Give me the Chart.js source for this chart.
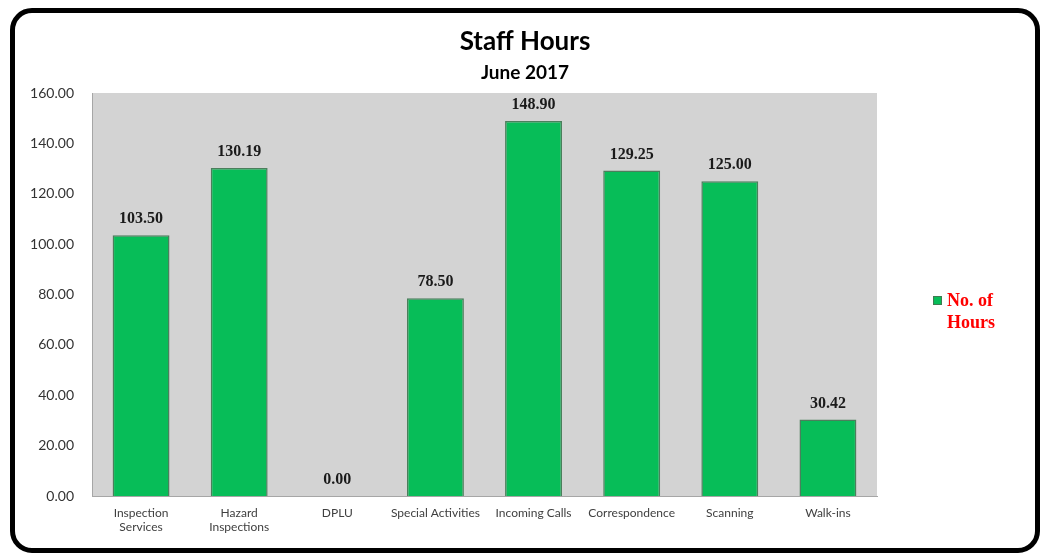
<!DOCTYPE html>
<html>
<head>
<meta charset="utf-8">
<script src="https://cdn.jsdelivr.net/npm/chart.js@4"></script>
<style>
  html, body { margin: 0; padding: 0; background: #fff; }
  #frame {
    position: absolute; left: 10px; top: 8px;
    width: 1030px; height: 545px; box-sizing: border-box;
    border: 5px solid #000; border-radius: 22px; background: #fff;
  }
  #frame canvas { display: block; }
</style>
</head>
<body>
<div id="frame"><canvas id="staffChart" width="1020" height="535"></canvas></div>
<script>
// Staff hours per activity, June 2017
const categories = [
    ['Inspection', 'Services'],
    ['Hazard', 'Inspections'],
    'DPLU',
    'Special Activities',
    'Incoming Calls',
    'Correspondence',
    'Scanning',
    'Walk-ins'
];
const hours = [103.50, 130.19, 0.00, 78.50, 148.90, 129.25, 125.00, 30.42];
const yTicks = [0, 20, 40, 60, 80, 100, 120, 140, 160];
const seriesName = ['No. of', 'Hours'];

// grey plot background
const plotBackground = {
    id: 'plotBackground',
    beforeDraw(chart) {
        const { ctx, chartArea: a } = chart;
        ctx.save();
        ctx.fillStyle = '#d3d3d3';
        ctx.fillRect(a.left, a.top, a.right - a.left, a.bottom - a.top);
        ctx.restore();
    }
};

// value labels above bars
const valueLabels = {
    id: 'valueLabels',
    afterDatasetsDraw(chart) {
        const ctx = chart.ctx;
        const meta = chart.getDatasetMeta(0);
        ctx.save();
        ctx.font = 'bold 16px "Liberation Serif", "DejaVu Serif", serif';
        ctx.fillStyle = '#1a1a1a';
        ctx.textAlign = 'center';
        ctx.textBaseline = 'bottom';
        meta.data.forEach((bar, i) => {
            ctx.fillText(hours[i].toFixed(2), bar.x, bar.y - 8);
        });
        ctx.restore();
    }
};

// legend on the right, two lines
const sideLegend = {
    id: 'sideLegend',
    afterDraw(chart) {
        const ctx = chart.ctx;
        const x = chart.chartArea.right + 56;
        const y = 287;
        ctx.save();
        ctx.fillStyle = '#07bd58';
        ctx.strokeStyle = '#3f7a52';
        ctx.lineWidth = 1;
        ctx.fillRect(x, y - 4, 9, 9);
        ctx.strokeRect(x + 0.5, y - 3.5, 8, 8);
        ctx.font = 'bold 18px "Liberation Serif", "Times New Roman", serif';
        ctx.fillStyle = '#ff0000';
        ctx.textAlign = 'left';
        ctx.textBaseline = 'middle';
        ctx.fillText(seriesName[0], x + 14, y + 1);
        ctx.fillText(seriesName[1], x + 14, y + 23);
        ctx.restore();
    }
};

const ctx = document.getElementById('staffChart').getContext('2d');
new Chart(ctx, {
    type: 'bar',
    data: {
        labels: categories,
        datasets: [{
            label: seriesName.join(' '),
            data: hours,
            backgroundColor: '#07bd58',
            borderColor: '#4b7f5c',
            borderWidth: 1.5,
            categoryPercentage: 1,
            barPercentage: 0.58
        }]
    },
    options: {
        responsive: false,
        animation: false,
        layout: { padding: 0 },
        scales: {
            x: {
                grid: { display: false },
                border: { display: true, color: '#a6a6a6', width: 1 },
                ticks: {
                    color: '#404040',
                    font: { family: 'Lato, "Open Sans", sans-serif', size: 12 },
                    padding: 2,
                    maxRotation: 0,
                    autoSkip: false
                },
                afterFit(scale) { scale.height = 52; }
            },
            y: {
                min: 0,
                max: 160,
                grid: { display: false },
                border: { display: true, color: '#a6a6a6', width: 1 },
                afterBuildTicks(scale) { scale.ticks = yTicks.map(v => ({ value: v })); },
                ticks: {
                    color: '#333333',
                    font: { family: 'Lato, "Open Sans", sans-serif', size: 14 },
                    padding: 10,
                    callback: v => Number(v).toFixed(2)
                },
                afterFit(scale) { scale.width = 77; }
            },
            // empty right-hand box that reserves room for the legend
            legendSpace: {
                type: 'linear',
                position: 'right',
                display: true,
                grid: { display: false },
                border: { display: false },
                ticks: { display: false },
                afterFit(scale) { scale.width = 158; }
            }
        },
        plugins: {
            legend: { display: false },
            tooltip: { enabled: false },
            title: {
                display: true,
                text: 'Staff Hours',
                color: '#000',
                font: { family: 'Lato, "Open Sans", sans-serif', size: 26, weight: 'bold' },
                padding: { top: 13, bottom: 2 }
            },
            subtitle: {
                display: true,
                text: 'June 2017',
                color: '#000',
                font: { family: 'Lato, "Open Sans", sans-serif', size: 19, weight: 'bold' },
                padding: { top: 2, bottom: 9 }
            }
        }
    },
    plugins: [plotBackground, valueLabels, sideLegend]
});
</script>
</body>
</html>
